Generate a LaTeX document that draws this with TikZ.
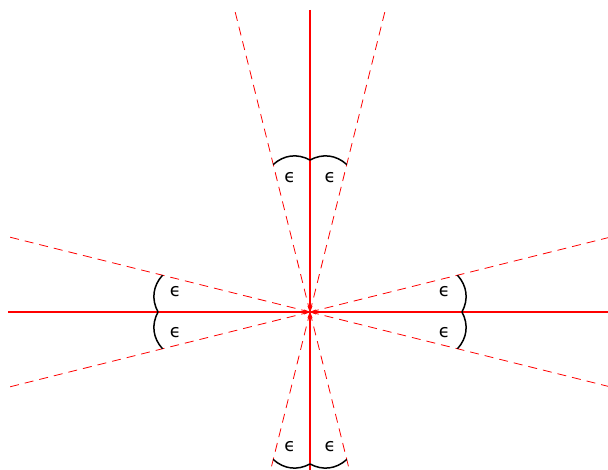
\documentclass[tikz,border=0pt]{standalone}
\usepackage{fontspec}
\newfontfamily\epsfont{DejaVu Sans}
\usetikzlibrary{arrows.meta,calc}
\tikzset{
  axisray/.style={red, line width=1.5pt, -{Stealth[length=6pt,width=5pt]}},
  dashray/.style={red, line width=0.8pt, dash pattern=on 9pt off 6pt},
  anglearc/.style={black, line width=1.5pt},
  epslabel/.style={font=\epsfont\fontsize{18}{21}\selectfont, inner sep=0pt}
}
\begin{document}
\begin{tikzpicture}[x=1pt,y=1pt]
\useasboundingbox (-310,-158) rectangle (298,312);
\clip (-310,-158) rectangle (298,312);
\coordinate (O) at (0,0);
% ray ends
\foreach \a/\n in {0/E,90/N,180/W,270/S}{
  \coordinate (\n) at (\a:302);
}
\foreach \a/\n in {14/d1,-14/d2,76/d3,104/d4,166/d5,194/d6,256/d7,284/d8}{
  \coordinate (\n) at (\a:311);
}
% dashed rays
\foreach \n in {d1,d2,d3,d4,d5,d6,d7,d8}{
  \draw[dashray] (O) -- (\n);
}
% solid axis rays
\foreach \n in {E,N,W,S}{
  \draw[axisray] (\n) -- (O);
}
% arc end points
\foreach \a in {0,14,-14,90,76,104,180,166,194,270,256,284}{
  \coordinate (p\a) at (\a:152);
}
% arcs (bulging outward)
\draw[anglearc] (p104) to[bend left=35] (p90);
\draw[anglearc] (p90) to[bend left=35] (p76);
\draw[anglearc] (p194) to[bend left=35] (p180);
\draw[anglearc] (p180) to[bend left=35] (p166);
\draw[anglearc] (p14) to[bend left=35] (p0);
\draw[anglearc] (p0) to[bend left=35] (p-14);
\draw[anglearc] (p284) to[bend left=35] (p270);
\draw[anglearc] (p270) to[bend left=35] (p256);
% labels
\node[epslabel] (e1) at (98.5:136) {ϵ};
\node[epslabel] (e2) at (81.5:136) {ϵ};
\node[epslabel] (e3) at (171.5:136) {ϵ};
\node[epslabel] (e4) at (188.5:136) {ϵ};
\node[epslabel] (e5) at (8.5:136) {ϵ};
\node[epslabel] (e6) at (-8.5:136) {ϵ};
\node[epslabel] (e7) at (261.5:136) {ϵ};
\node[epslabel] (e8) at (278.5:136) {ϵ};
\end{tikzpicture}
\end{document}
